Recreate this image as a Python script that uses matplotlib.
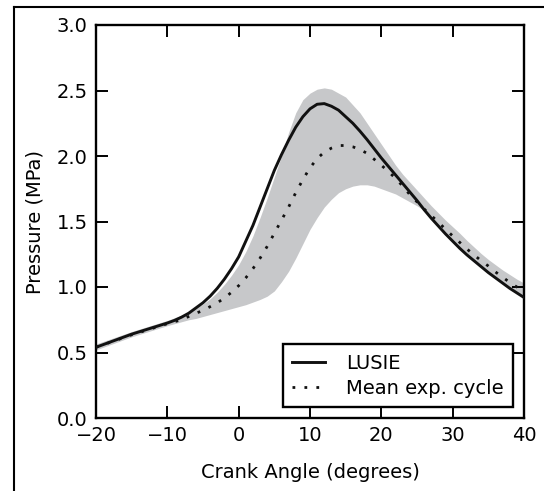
import numpy as np
import matplotlib
matplotlib.use("Agg")
import matplotlib.pyplot as plt
from matplotlib.lines import Line2D

# Data
crank_angle = [-20, -15, -10, -9, -8, -7, -6, -5, -4, -3, -2, -1, 0, 1, 2, 3, 4, 5, 6, 7, 8, 9,
               10, 11, 12, 13, 14, 15, 16, 17, 18, 19, 20, 21, 22, 23, 24, 25, 26, 27, 28, 29,
               30, 31, 32, 33, 34, 35, 36, 37, 38, 39, 40]

lusie = [0.54, 0.64, 0.725, 0.745, 0.77, 0.80, 0.84, 0.88, 0.93, 0.99, 1.06, 1.14, 1.23, 1.35,
         1.47, 1.61, 1.75, 1.89, 2.01, 2.12, 2.22, 2.30, 2.36, 2.395, 2.40, 2.38, 2.35, 2.30,
         2.25, 2.19, 2.125, 2.055, 1.985, 1.92, 1.855, 1.79, 1.725, 1.66, 1.59, 1.525, 1.465,
         1.405, 1.35, 1.295, 1.245, 1.20, 1.155, 1.11, 1.07, 1.03, 0.99, 0.955, 0.92]

mean_exp = [0.54, 0.635, 0.72, 0.735, 0.75, 0.775, 0.80, 0.82, 0.85, 0.88, 0.915, 0.96, 1.01,
            1.07, 1.14, 1.22, 1.31, 1.41, 1.51, 1.61, 1.72, 1.82, 1.91, 1.98, 2.03, 2.06, 2.08,
            2.08, 2.07, 2.05, 2.02, 1.975, 1.93, 1.88, 1.83, 1.77, 1.705, 1.65, 1.595, 1.545, 1.495,
            1.44, 1.39, 1.34, 1.29, 1.245, 1.20, 1.16, 1.115, 1.075, 1.035, 1.0, 0.965]

band_upper = [0.565, 0.66, 0.745, 0.765, 0.785, 0.81, 0.84, 0.87, 0.91, 0.96, 1.02, 1.09, 1.17,
              1.27, 1.39, 1.53, 1.68, 1.84, 2.00, 2.18, 2.33, 2.43, 2.48, 2.51, 2.52, 2.51, 2.48,
              2.45, 2.39, 2.33, 2.25, 2.17, 2.09, 2.01, 1.93, 1.86, 1.80, 1.74, 1.68, 1.62, 1.565,
              1.51, 1.46, 1.41, 1.355, 1.305, 1.255, 1.21, 1.17, 1.13, 1.095, 1.06, 1.03]

band_lower = [0.52, 0.62, 0.705, 0.72, 0.735, 0.75, 0.76, 0.775, 0.79, 0.805, 0.82, 0.835, 0.85,
              0.865, 0.885, 0.905, 0.93, 0.97, 1.04, 1.12, 1.22, 1.33, 1.44, 1.53, 1.61, 1.67,
              1.72, 1.75, 1.77, 1.78, 1.78, 1.77, 1.75, 1.73, 1.71, 1.68, 1.65, 1.62, 1.585, 1.52,
              1.46, 1.40, 1.345, 1.29, 1.24, 1.195, 1.15, 1.105, 1.065, 1.025, 0.985, 0.95, 0.915]

xticks = [-20, -10, 0, 10, 20, 30, 40]
yticks = [0.0, 0.5, 1.0, 1.5, 2.0, 2.5, 3.0]

plt.rcParams['font.family'] = ['DejaVu Sans']
plt.rcParams['font.size'] = 14

fig = plt.figure(figsize=(5.44, 4.91), dpi=100)
ax = fig.add_axes([96/544, (491-418)/491, 428/544, 393/491])

ax.fill_between(crank_angle, band_lower, band_upper, color='#c7c8ca', linewidth=0, zorder=1)
ax.plot(crank_angle, lusie, color='#111111', lw=2.1, zorder=3, label='LUSIE',
        solid_joinstyle='round')
ax.plot(crank_angle, mean_exp, color='#111111', lw=2.0, linestyle=(0, (1, 3.3)),
        dash_capstyle='butt', zorder=2, label='Mean exp. cycle')

ax.set_xlim(-20, 40)
ax.set_ylim(0, 3.0)
ax.set_xticks(xticks)
ax.set_yticks(yticks)
ax.set_yticklabels([f"{v:.1f}" for v in yticks])
ax.tick_params(direction='in', length=8.6, width=1.4, top=True, right=True, pad=6)
for s in ax.spines.values():
    s.set_linewidth(1.7)
ax.set_xlabel('Crank Angle (degrees)', labelpad=13)
ax.set_ylabel('Pressure (MPa)', labelpad=9)

leg = ax.legend(loc='lower right', fancybox=False, edgecolor='black', framealpha=1,
                handlelength=1.65, borderpad=0.5, handletextpad=1.1, labelspacing=0.3,
                borderaxespad=0.55)
leg.get_frame().set_linewidth(1.7)

# figure border (left and top)
fig.add_artist(Line2D([14/544, 14/544], [0, 1 - 7/491], color='black', lw=1.5, transform=fig.transFigure))
fig.add_artist(Line2D([14/544, 1], [1 - 7/491, 1 - 7/491], color='black', lw=1.5, transform=fig.transFigure))

fig.savefig('out.png', dpi=100)
